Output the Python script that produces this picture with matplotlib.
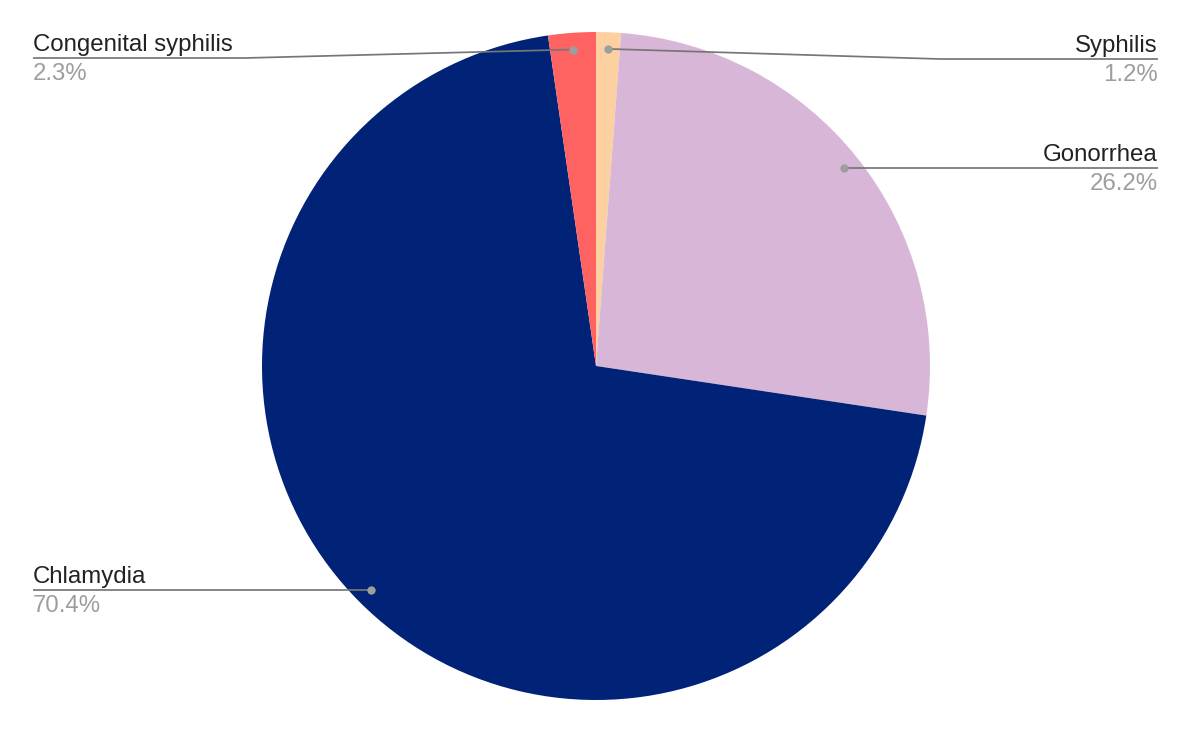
import matplotlib
matplotlib.use("Agg")
import matplotlib.pyplot as plt
import numpy as np

# ---- data ----
categories = ["Syphilis", "Gonorrhea", "Chlamydia", "Congenital syphilis"]
shares = [1.2, 26.2, 70.4, 2.3]
pct_labels = ["1.2%", "26.2%", "70.4%", "2.3%"]
colors = ["#FDD0A2", "#D8B6D7", "#002277", "#FF6361"]

# ---- layout (pixel space, y downward) ----
W, H = 1194, 736
CX, CY, R = 596, 366, 334
label_side = ["right", "right", "left", "left"]
label_line_y = [59, None, None, 58]      # None -> use dot height
label_kink_x = [940, None, None, 245]
LEFT_X, RIGHT_X = 33, 1158
FS = 17.3

plt.rcParams["font.family"] = ["Liberation Sans", "DejaVu Sans"]

fig = plt.figure(figsize=(W / 100, H / 100), dpi=100)
ax = fig.add_axes([0, 0, 1, 1])

# y axis inverted below: visual clockwise from top == data counterclockwise from -90
wedges, _ = ax.pie(shares, colors=colors, startangle=-90, counterclock=True,
                   center=(CX, CY), radius=R, frame=False,
                   wedgeprops=dict(linewidth=0))
ax.set_xlim(0, W)
ax.set_ylim(H, 0)
ax.set_aspect("equal")
ax.axis("off")

for i, w in enumerate(wedges):
    mid = np.deg2rad((w.theta1 + w.theta2) / 2)
    dx = CX + 0.95 * R * np.cos(mid)
    dy = CY + 0.95 * R * np.sin(mid)
    ly = label_line_y[i] if label_line_y[i] is not None else dy
    kx = label_kink_x[i] if label_kink_x[i] is not None else dx
    ex = RIGHT_X if label_side[i] == "right" else LEFT_X
    ha = "right" if label_side[i] == "right" else "left"
    ax.plot([dx, kx, ex], [dy, ly, ly], color="#767676", lw=1.25,
            solid_capstyle="butt", zorder=3)
    ax.plot([dx], [dy], "o", color="#9e9e9e", markersize=6, zorder=4,
            markeredgewidth=0)
    ax.text(ex, ly - 7, categories[i], ha=ha, va="baseline", fontsize=FS,
            color="#222222")
    ax.text(ex, ly + 22, pct_labels[i], ha=ha, va="baseline", fontsize=FS,
            color="#9e9e9e")

fig.savefig("out.png", dpi=100, facecolor="white")
